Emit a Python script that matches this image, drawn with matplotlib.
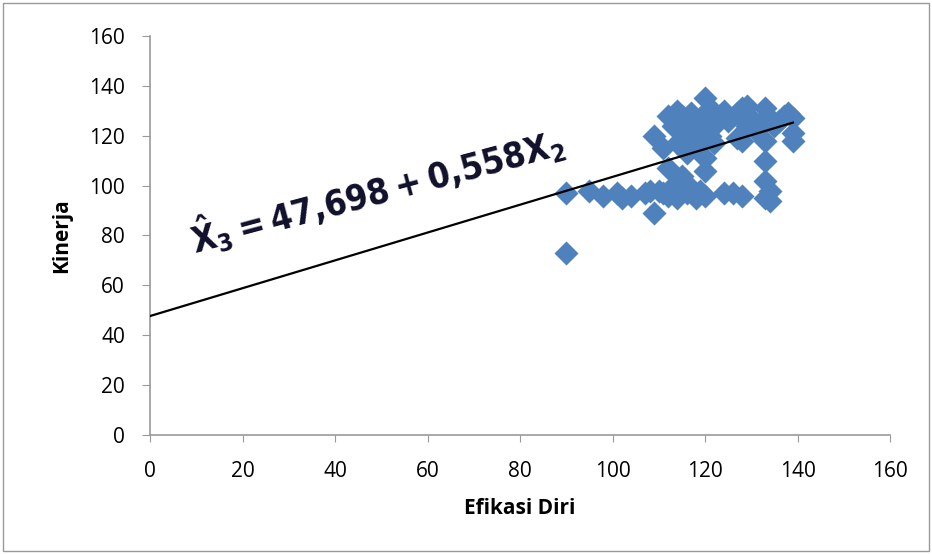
import matplotlib.pyplot as plt
import numpy as np
from matplotlib.patches import Rectangle

# Efikasi Diri (x) vs Kinerja (y)
efikasi = [90, 90, 95, 98, 101, 102, 104, 107, 108, 109, 109, 110, 111, 111, 112,
           112, 112, 113, 113, 114, 114, 114, 115, 115, 115, 116, 116, 116, 117, 117,
           117, 118, 118, 119, 119, 119, 120, 120, 120, 120, 120, 121, 121, 122, 122,
           123, 124, 124, 125, 126, 127, 127, 128, 128, 128, 129, 129, 130, 131, 132,
           133, 133, 133, 133, 133, 134, 134, 134, 135, 136, 137, 138, 139, 139, 139]
kinerja = [97, 73, 98, 96, 97, 95, 96, 97, 98, 89, 120, 98, 97, 115, 128,
           107, 96, 124, 100, 130, 117, 95, 128, 121, 104, 125, 113, 97, 129, 116,
           99, 122, 95, 127, 117, 98, 135, 126, 111, 106, 96, 131, 120, 124, 117,
           128, 130, 97, 126, 97, 119, 129, 131, 118, 96, 132, 124, 127, 122, 125,
           131, 118, 110, 102, 95, 127, 98, 94, 124, 126, 128, 129, 127, 121, 118]

# regression coefficients from the fitted model
intercept = 47.698
slope = 0.558

plt.rcParams['font.family'] = ['Open Sans', 'DejaVu Sans']
plt.rcParams['mathtext.fontset'] = 'custom'
eq_font = 'DejaVu Sans:bold:stretch=condensed'
plt.rcParams['mathtext.rm'] = eq_font
plt.rcParams['mathtext.it'] = eq_font
plt.rcParams['mathtext.bf'] = eq_font

fig = plt.figure(figsize=(9.32, 5.54), dpi=100)
ax = fig.add_axes([150 / 932, 1 - 435 / 554, 740 / 932, 399 / 554])

ax.scatter(efikasi, kinerja, marker='D', s=150, color='#4F81BD', zorder=3, linewidths=0)

xs = np.array([0, max(efikasi)])
ax.plot(xs, intercept + slope * xs, color='black', linewidth=1.6, zorder=4)

ax.text(49, 98.5, r'$\hat{\mathrm{X}}_{3} = 47{,}698 + 0{,}558\mathrm{X}_{2}$',
        rotation=15, rotation_mode='anchor', ha='center', va='center',
        fontsize=25.5, color='#10102a',
        bbox=dict(facecolor='white', edgecolor='none', pad=6), zorder=5)

ax.set_xlim(0, 160)
ax.set_ylim(0, 160)
ax.set_xticks(range(0, 161, 20))
ax.set_yticks(range(0, 161, 20))
for s in ['top', 'right']:
    ax.spines[s].set_visible(False)
for s in ['left', 'bottom']:
    ax.spines[s].set_color('#999999')
    ax.spines[s].set_linewidth(1.2)
ax.tick_params(axis='x', direction='out', length=5, color='#999999', labelsize=15, pad=14)
ax.tick_params(axis='y', direction='out', length=6, color='#999999', labelsize=15, pad=12)

ax.set_xlabel('Efikasi Diri', fontsize=15, fontweight='bold')
ax.set_ylabel('Kinerja', fontsize=15, fontweight='bold')
ax.xaxis.set_label_coords(0.5, -73 / 399)
ax.xaxis.label.set_va('center')
ax.yaxis.set_label_coords(-88 / 740, 0.5)
ax.yaxis.label.set_va('center')

fig.patches.append(Rectangle((3 / 932, 3 / 554), 926 / 932, 548 / 554,
                             transform=fig.transFigure, fill=False,
                             edgecolor='#999999', linewidth=1))

fig.savefig('out.png', dpi=100)
